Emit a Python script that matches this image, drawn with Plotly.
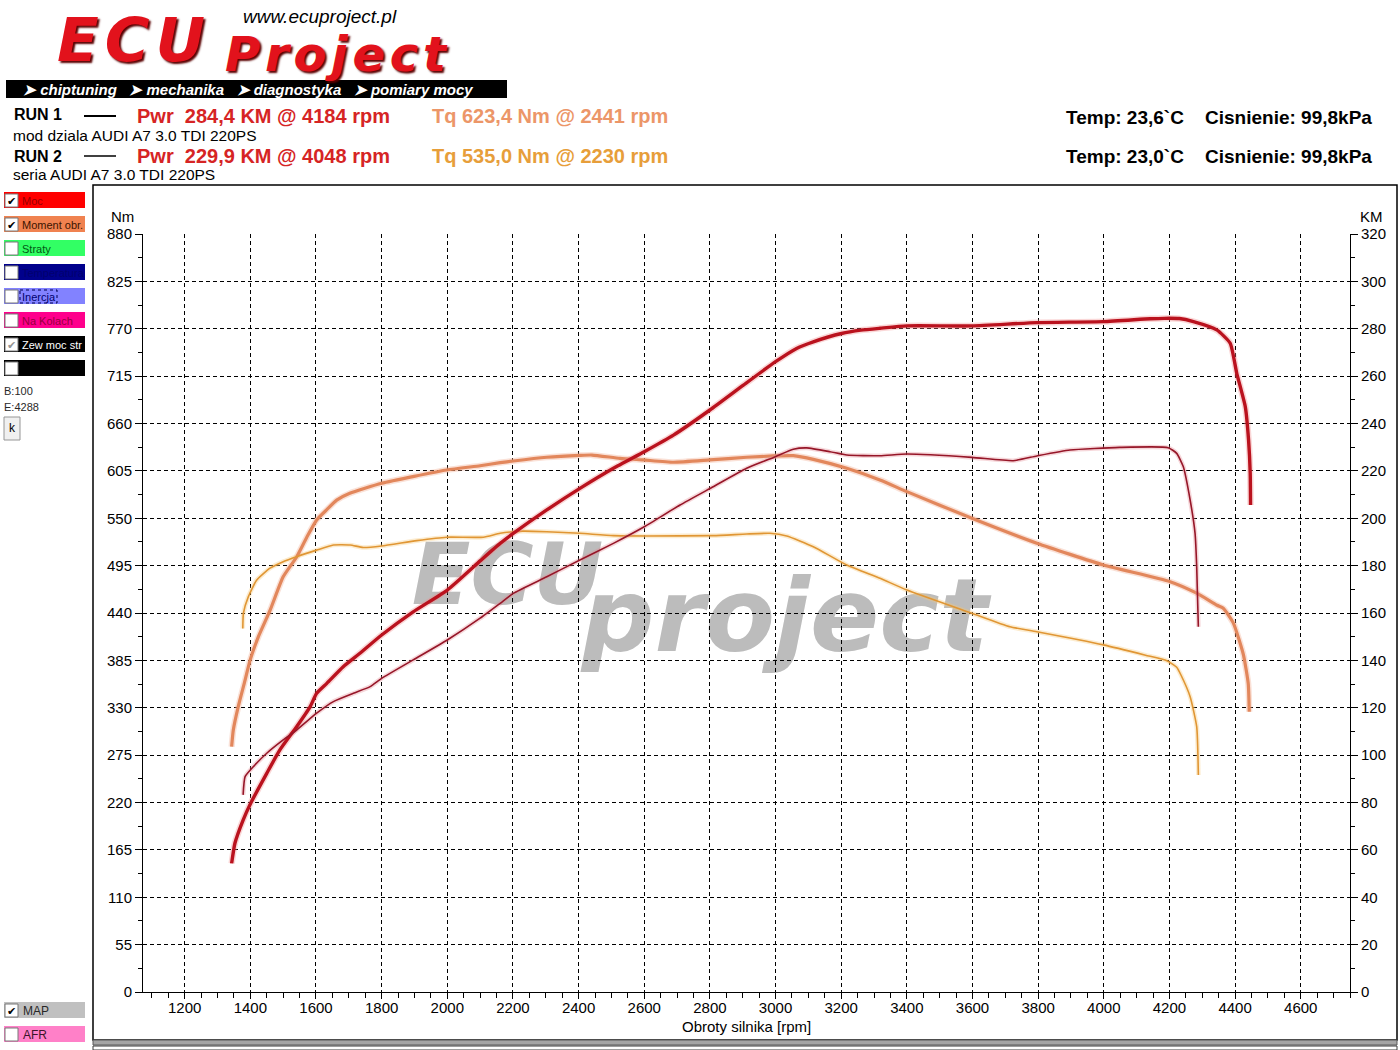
import plotly.graph_objects as go

# ---------------- data ----------------
run1_pwr_rpm = [1343, 1353, 1378, 1401, 1450, 1490, 1541, 1582, 1602, 1633, 1683, 1734, 1800, 1896, 2000,
                2100, 2161, 2201, 2303, 2404, 2506, 2600, 2689, 2800, 2902, 3000, 3064, 3115, 3201, 3260,
                3318, 3400, 3598, 3796, 3999, 4141, 4184, 4230, 4273, 4344, 4385, 4405, 4431, 4441, 4446, 4447]
run1_pwr_km = [54.3, 62.8, 72.6, 79.7, 92.3, 102.2, 112.0, 120.4, 126.1, 130.3, 137.3, 143.0, 150.7, 160.5, 169.7,
               182.0, 189.4, 193.6, 203.5, 212.6, 221.1, 228.1, 235.1, 245.7, 256.2, 266.1, 271.7, 274.5, 278.0, 279.4,
               280.2, 281.2, 281.2, 282.6, 283.0, 284.2, 284.4, 284.3, 283.0, 279.5, 273.9, 261.2, 247.1, 233.0, 219.0, 205.6]

run2_pwr_rpm = [1378, 1384, 1409, 1450, 1500, 1541, 1602, 1653, 1714, 1765, 1800, 1896, 2000, 2100, 2161,
                2201, 2303, 2404, 2506, 2600, 2709, 2810, 2912, 3000, 3054, 3095, 3166, 3217, 3318, 3400,
                3598, 3724, 3796, 3897, 4048, 4196, 4222, 4242, 4263, 4278, 4283, 4288]
run2_pwr_km = [83.2, 90.9, 95.1, 100.8, 106.4, 110.6, 117.7, 122.6, 126.1, 128.9, 132.4, 140.2, 148.6, 157.8, 164.1,
               168.3, 175.3, 182.4, 189.4, 196.4, 205.6, 213.3, 221.1, 226.0, 229.1, 229.7, 228.1, 226.7, 226.4, 227.1,
               225.7, 224.3, 226.3, 228.8, 229.9, 229.8, 227.4, 221.8, 207.7, 193.6, 179.5, 154.2]

run1_tq_rpm = [1343, 1348, 1363, 1384, 1399, 1424, 1460, 1500, 1541, 1572, 1602, 1633, 1663, 1703, 1800,
               1998, 2100, 2161, 2201, 2303, 2404, 2441, 2526, 2597, 2689, 2800, 2912, 2993, 3054, 3115,
               3217, 3318, 3400, 3598, 3796, 3999, 4202, 4283, 4345, 4364, 4395, 4425, 4440, 4443]
run1_tq_nm = [284.8, 304, 331, 362, 385, 412, 443, 482, 505, 528, 548, 560, 571, 579, 590.6,
              606, 611, 614.5, 616.5, 620.8, 623.0, 623.4, 619.6, 617.7, 615, 617.7, 620.8, 622.3, 622.7, 618.4,
              608, 594.4, 580.9, 550, 521, 495.7, 476.4, 463, 449, 445.5, 428, 392, 358, 325.4]

run2_tq_rpm = [1377, 1379, 1394, 1419, 1460, 1500, 1541, 1602, 1653, 1704, 1744, 1800, 1907, 1998, 2110,
               2161, 2230, 2303, 2404, 2506, 2607, 2810, 2912, 2983, 3034, 3115, 3217, 3318, 3400, 3598,
               3714, 3796, 3999, 4127, 4192, 4222, 4235, 4263, 4283, 4288]
run2_tq_nm = [422, 440, 459, 478, 492, 499.6, 505.4, 513, 519, 519, 516, 517.8, 524, 528, 528,
              532.5, 535.0, 534.4, 532.5, 529.8, 529.4, 529.8, 531.7, 532.5, 529.4, 517, 495.7, 480.3, 466.7, 439.7,
              424, 418.3, 403, 391, 384.6, 377, 368, 342.8, 308, 252]

x_ticks = [1200, 1400, 1600, 1800, 2000, 2200, 2400, 2600, 2800, 3000, 3200, 3400, 3600, 3800, 4000, 4200, 4400, 4600]
nm_ticks = [0, 55, 110, 165, 220, 275, 330, 385, 440, 495, 550, 605, 660, 715, 770, 825, 880]
km_ticks = [0, 20, 40, 60, 80, 100, 120, 140, 160, 180, 200, 220, 240, 260, 280, 300, 320]

# ---------------- geometry helpers ----------------
W, H = 1400, 1050
L, R, T, B = 143, 1350, 234, 992


def px(x):
    return (x - L) / (R - L)


def py(y):
    return (B - y) / (B - T)


C_PWR1 = "rgb(186,18,30)"
C_PWR2 = "rgb(150,22,40)"
C_TQ1 = "rgb(226,135,92)"
C_TQ2 = "rgb(224,150,52)"

fig = go.Figure()

series = [
    (run1_tq_rpm, run1_tq_nm, "y", C_TQ1, 3.2, "rgba(240,170,140,0.35)"),
    (run2_tq_rpm, run2_tq_nm, "y", C_TQ2, 1.6, "rgba(245,200,120,0.35)"),
    (run1_pwr_rpm, run1_pwr_km, "y2", C_PWR1, 3.4, "rgba(240,140,140,0.35)"),
    (run2_pwr_rpm, run2_pwr_km, "y2", C_PWR2, 1.6, "rgba(230,140,150,0.35)"),
]
for xs, ys, ax, col, w, halo in series:
    fig.add_trace(go.Scatter(x=xs, y=ys, yaxis=ax, mode="lines", hoverinfo="skip",
                             line=dict(color=halo, width=w + 3, shape="spline", smoothing=0.5),
                             showlegend=False))
for xs, ys, ax, col, w, halo in series:
    fig.add_trace(go.Scatter(x=xs, y=ys, yaxis=ax, mode="lines",
                             line=dict(color=col, width=w, shape="spline", smoothing=0.5),
                             showlegend=False))

tickfont = dict(family="Liberation Sans, Arial, sans-serif", size=15, color="black")

fig.update_layout(
    width=W, height=H,
    margin=dict(l=L, r=W - R, t=T, b=H - B, pad=0),
    paper_bgcolor="white", plot_bgcolor="white",
    xaxis=dict(range=[1073, 4750], tickvals=x_ticks, ticktext=[str(v) for v in x_ticks],
               showgrid=True, gridcolor="black", gridwidth=1, griddash="4px,3px",
               showline=True, linecolor="black", linewidth=1, zeroline=False,
               ticks="outside", ticklen=6, tickcolor="black", tickfont=tickfont, ticklabelstandoff=-4,
               minor=dict(dtick=50, tick0=1200, ticks="outside", ticklen=5, tickcolor="black", showgrid=False)),
    yaxis=dict(range=[0, 880], tickvals=nm_ticks, ticktext=[str(v) for v in nm_ticks],
               showgrid=True, gridcolor="black", gridwidth=1, griddash="4px,3px",
               showline=True, linecolor="black", linewidth=1, zeroline=False,
               ticks="outside", ticklen=7, tickcolor="black", tickfont=tickfont,
               minor=dict(dtick=27.5, tick0=0, ticks="outside", ticklen=4, tickcolor="black", showgrid=False)),
    yaxis2=dict(range=[0, 320], tickvals=km_ticks, ticktext=[str(v) for v in km_ticks],
                overlaying="y", side="right", showgrid=False,
                showline=True, linecolor="black", linewidth=1, zeroline=False,
                ticks="outside", ticklen=7, tickcolor="black", tickfont=tickfont,
                minor=dict(dtick=10, tick0=0, ticks="outside", ticklen=4, tickcolor="black", showgrid=False)),
)

shapes = []
ann = []
FONT = "Liberation Sans, Arial, sans-serif"


def rect(x0, y0, x1, y1, fill="rgba(0,0,0,0)", line="rgba(0,0,0,0)", lw=0, layer="above", dash=None):
    ln = dict(color=line, width=lw)
    if dash:
        ln["dash"] = dash
    shapes.append(dict(type="rect", xref="paper", yref="paper", x0=px(x0), x1=px(x1), y0=py(y0), y1=py(y1),
                       fillcolor=fill, line=ln, layer=layer))


def text(x, y, s, size=15, color="black", bold=False, italic=False, family=FONT, xanchor="left",
         yanchor="middle", extra=None):
    f = dict(family=family, size=size, color=color)
    if bold:
        f["weight"] = "bold"
    if italic:
        f["style"] = "italic"
    if extra:
        f.update(extra)
    ann.append(dict(x=px(x), y=py(y), xref="paper", yref="paper", text=s, showarrow=False,
                    xanchor=xanchor, yanchor=yanchor, font=f, borderpad=0))


# watermark (below traces)
def wm(txt, x0, x1, y0, y1, size):
    shapes.append(dict(type="rect", xref="paper", yref="paper", x0=px(x0), x1=px(x1), y0=py(y0), y1=py(y1),
                       line=dict(width=0), fillcolor="rgba(0,0,0,0)", layer="below",
                       label=dict(text=txt, textposition="middle center",
                                  font=dict(family="DejaVu Sans, Verdana, sans-serif", size=size,
                                            color="rgb(188,188,188)", weight="bold", style="italic"))))


wm("ECU", 405, 610, 525, 610, 86)
wm("project", 560, 1010, 548, 668, 102)

# outer chart frame
rect(93, 185, 1397, 1040, line="black", lw=1.5)
rect(93, 1040, 1397, 1045, fill="rgb(165,165,165)", line="rgb(90,90,90)", lw=1)
rect(93, 1046, 1397, 1050, line="rgb(60,60,60)", lw=1)

# logo
HS = "\u200a"
text(56, 39, "E" + HS + "C" + HS + "U", size=61, color="rgb(226,18,28)", bold=True, italic=True,
     family="DejaVu Sans, Arial, sans-serif", extra=dict(shadow="2px 2px 2px rgb(90,0,0)"))
text(242, 16, "www.ecuproject.pl", size=19, color="black", italic=True)
text(224, 54, HS.join("Project"), size=48, color="rgb(226,18,28)", bold=True, italic=True,
     family="DejaVu Sans, Arial, sans-serif", extra=dict(shadow="2px 2px 2px rgb(90,0,0)"))
rect(6, 80, 507, 98, fill="black")
NB = "\u00a0"
text(22, 89, "\u27a4 chiptuning" + NB * 3 + "\u27a4 mechanika" + NB * 3 + "\u27a4 diagnostyka" + NB * 3 +
     "\u27a4 pomiary mocy", size=15, color="white", bold=True, italic=True)

# header run info
PWR_COL = "rgb(214,36,36)"
text(13, 115, "RUN 1", size=16, bold=True)
shapes.append(dict(type="line", xref="paper", yref="paper", x0=px(84), x1=px(116), y0=py(116), y1=py(116),
                   line=dict(color="black", width=2)))
text(136, 116, "Pwr" + NB + NB + "284,4 KM @ 4184 rpm", size=20, bold=True, color=PWR_COL)
text(431, 116, "Tq 623,4 Nm @ 2441 rpm", size=20, bold=True, color="rgb(236,150,104)")
text(1065, 117, "Temp: 23,6`C" + NB * 4 + "Cisnienie: 99,8kPa", size=19, bold=True)
text(12, 135, "mod dziala AUDI A7 3.0 TDI 220PS", size=15.5)

text(13, 157, "RUN 2", size=16, bold=True)
shapes.append(dict(type="line", xref="paper", yref="paper", x0=px(84), x1=px(116), y0=py(156), y1=py(156),
                   line=dict(color="black", width=1.5)))
text(136, 156, "Pwr" + NB + NB + "229,9 KM @ 4048 rpm", size=20, bold=True, color=PWR_COL)
text(431, 156, "Tq 535,0 Nm @ 2230 rpm", size=20, bold=True, color="rgb(231,158,58)")
text(1065, 157, "Temp: 23,0`C" + NB * 4 + "Cisnienie: 99,8kPa", size=19, bold=True)
text(12, 175, "seria AUDI A7 3.0 TDI 220PS", size=15.5)

# sidebar
buttons = [
    (192, "rgb(255,0,0)", "Moc", "rgb(150,0,0)", "y"),
    (216, "rgb(240,130,80)", "Moment obr.", "rgb(60,20,0)", "y"),
    (240, "rgb(50,255,100)", "Straty", "rgb(0,90,20)", ""),
    (264, "rgb(0,0,140)", "Temperatura", "rgb(0,0,110)", ""),
    (288, "rgb(130,130,255)", "Inercja", "rgb(0,0,110)", ""),
    (312, "rgb(255,0,140)", "Na Kolach", "rgb(150,0,60)", ""),
    (336, "black", "Zew moc str", "white", "g"),
    (360, "black", "", "white", ""),
]
for y0, fill, lab, tcol, chk in buttons:
    rect(4, y0, 85, y0 + 16, fill=fill)
    rect(5, y0 + 2, 18, y0 + 15, fill="white", line="rgb(120,120,120)", lw=1)
    if chk:
        text(11.5, y0 + 8.5, "\u2714", size=11, color=("rgb(150,150,150)" if chk == "g" else "black"),
             xanchor="center")
    if lab:
        text(21, y0 + 8.5, lab, size=11, color=tcol)
rect(20, 290, 57, 303, line="rgb(0,0,80)", lw=1, dash="dot")

text(3, 391, "B:100", size=11, color="rgb(40,40,40)")
text(3, 407, "E:4288", size=11, color="rgb(40,40,40)")
rect(4, 417, 20, 440, fill="rgb(240,240,240)", line="rgb(150,150,150)", lw=1)
text(12, 428, "k", size=12, xanchor="center")

rect(4, 1002, 85, 1018, fill="rgb(192,192,192)")
rect(5, 1004, 18, 1017, fill="white", line="rgb(120,120,120)", lw=1)
text(11.5, 1010.5, "\u2714", size=11, xanchor="center")
text(22, 1010.5, "MAP", size=12, color="rgb(40,40,40)")
rect(4, 1026, 85, 1042, fill="rgb(255,128,200)")
rect(5, 1028, 18, 1041, fill="white", line="rgb(120,120,120)", lw=1)
text(22, 1034.5, "AFR", size=12, color="rgb(60,20,40)")

# axis titles
text(122, 217, "Nm", size=15, xanchor="center")
text(1371, 217, "KM", size=15, xanchor="center")
text(746, 1026, "Obroty silnika [rpm]", size=15, xanchor="center")

fig.update_layout(shapes=shapes, annotations=ann)
fig.write_html("out.html", config={"displayModeBar": False},
               post_script="document.body.style.margin='0';document.body.style.padding='0';"
                           "document.body.style.overflow='hidden';")
